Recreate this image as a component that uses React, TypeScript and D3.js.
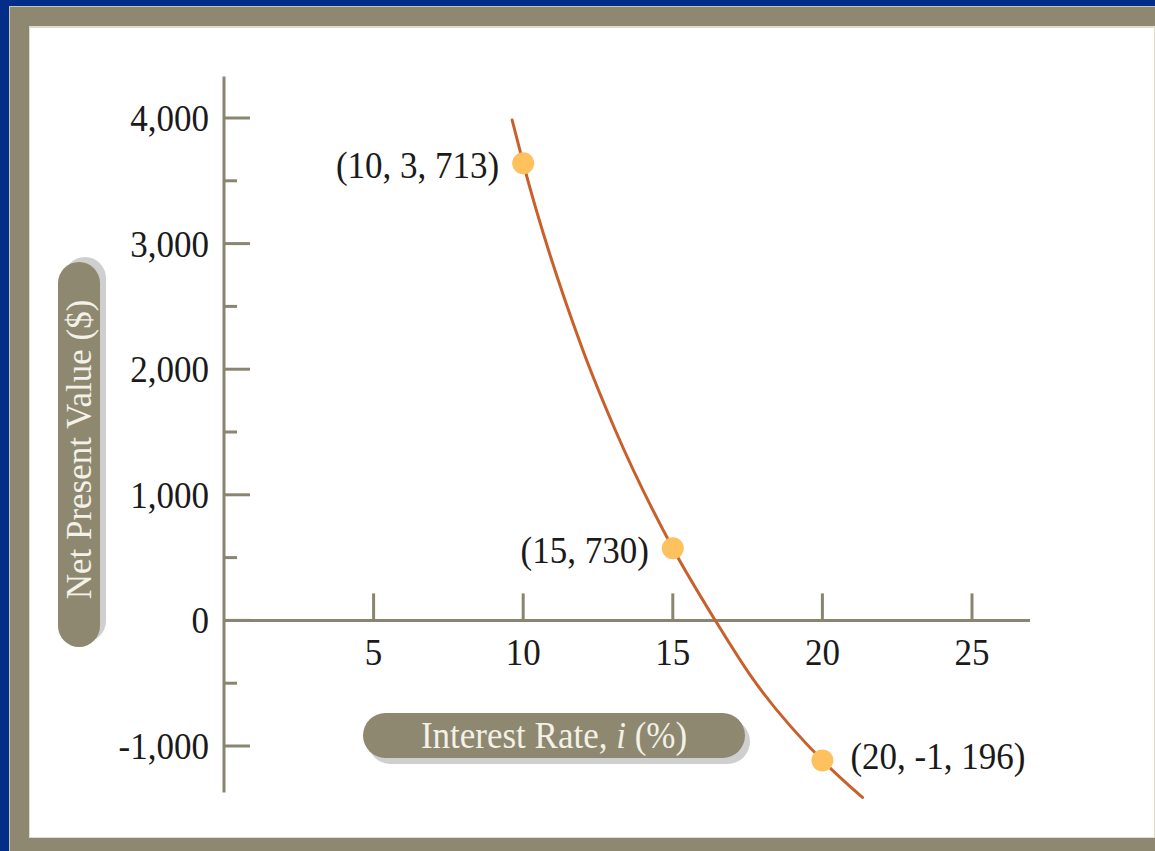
import React from "react";
import * as d3 from "d3";

// ---- data ----
const curveRates = [9.63, 10, 11.97, 13.08, 15, 16.42, 17.6, 20, 21.34];
const curveNPV = [3984, 3640, 2167, 1514, 575, 0, -440, -1115, -1410];

const pointRates = [10, 15, 20];
const pointNPV = [3640, 575, -1115];
const pointLabels = ["(10, 3, 713)", "(15, 730)", "(20, -1, 196)"];
const pointLabelSide = ["left", "left", "right"];

const xTicks = [5, 10, 15, 20, 25];
const yMajorTicks = [4000, 3000, 2000, 1000, 0, -1000];
const yMinorTicks = [3500, 2500, 1500, 500, -500];
const yTickLabels = ["4,000", "3,000", "2,000", "1,000", "0", "-1,000"];

const xAxisExtent = [0, 26.94];
const yAxisExtent = [-1370, 4330];

const xTitle = "Interest Rate, ";
const xTitleItalic = "i";
const xTitleEnd = " (%)";
const yTitle = "Net Present Value ($)";

// ---- styles ----
const W = 1155;
const H = 851;
const BLUE = "#022d88";
const KHAKI = "#8d886f";
const AXIS = "#8a8570";
const CURVE = "#c9602b";
const DOT = "#fdc15e";
const FONT = "'Liberation Serif', 'Times New Roman', Times, serif";
const FS = 35;
const STRETCH = 1.07;

function T(props: {
  x: number;
  y: number;
  anchor: string;
  fill?: string;
  children: React.ReactNode;
}) {
  return (
    <g transform={`translate(${props.x},${props.y}) scale(1,${STRETCH})`}>
      <text x={0} y={0} textAnchor={props.anchor} fontSize={FS} fill={props.fill || "#1a1a1a"}>
        {props.children}
      </text>
    </g>
  );
}

export default function App() {
  const x = d3.scaleLinear().domain([0, 25]).range([224, 972]);
  const y = d3.scaleLinear().domain([-1000, 4000]).range([746, 118]);

  const line = d3
    .line<number>()
    .x((_, i) => x(curveRates[i]))
    .y((d) => y(d))
    .curve(d3.curveMonotoneX);

  const x0 = x(0);
  const y0 = y(0);

  const xPill = { cx: 554, cy: 735.5, w: 382, h: 45 };
  const yPill = { cx: 79, cy: 454.5, w: 385, h: 42 };

  return (
    <svg
      width={W}
      height={H}
      style={{ position: "absolute", left: 0, top: 0, display: "block" }}
      fontFamily={FONT}
    >
      {/* frame */}
      <rect x={0} y={0} width={W} height={H} fill={BLUE} />
      <rect x={9} y={6} width={W - 9} height={H - 6} fill="#c9c5b2" />
      <rect x={10} y={7} width={W - 10} height={H - 7} fill={KHAKI} />
      <rect x={29} y={26} width={W - 29} height={812} fill="#dedbd0" />
      <rect x={30} y={28} width={W - 31} height={809} fill="#ffffff" />

      {/* y axis */}
      <line x1={x0} x2={x0} y1={y(yAxisExtent[1])} y2={y(yAxisExtent[0])} stroke={AXIS} strokeWidth={3} />
      {yMajorTicks.map((t) => (
        <line key={"M" + t} x1={x0} x2={x0 + 26} y1={y(t)} y2={y(t)} stroke={AXIS} strokeWidth={3} />
      ))}
      {yMinorTicks.map((t) => (
        <line key={"m" + t} x1={x0} x2={x0 + 13} y1={y(t)} y2={y(t)} stroke={AXIS} strokeWidth={3} />
      ))}
      {yMajorTicks.map((t, i) => (
        <T key={"yl" + t} x={x0 - 15} y={y(t) + 13} anchor="end">
          {yTickLabels[i]}
        </T>
      ))}

      {/* x axis */}
      <line x1={x(xAxisExtent[0]) - 1} x2={x(xAxisExtent[1])} y1={y0} y2={y0} stroke={AXIS} strokeWidth={3} />
      {xTicks.map((t) => (
        <line key={"xt" + t} x1={x(t)} x2={x(t)} y1={y0} y2={y0 - 27} stroke={AXIS} strokeWidth={3} />
      ))}
      {xTicks.map((t) => (
        <T key={"xl" + t} x={x(t)} y={y0 + 45} anchor="middle">
          {t}
        </T>
      ))}

      {/* x title pill */}
      <rect
        x={xPill.cx - xPill.w / 2 + 5}
        y={xPill.cy - xPill.h / 2 + 6}
        width={xPill.w}
        height={xPill.h}
        rx={xPill.h / 2}
        fill="#cfcfcf"
      />
      <rect
        x={xPill.cx - xPill.w / 2}
        y={xPill.cy - xPill.h / 2}
        width={xPill.w}
        height={xPill.h}
        rx={xPill.h / 2}
        fill={KHAKI}
      />
      <T x={xPill.cx} y={xPill.cy + 12} anchor="middle" fill="#f3f1e8">
        {xTitle}
        <tspan fontStyle="italic">{xTitleItalic}</tspan>
        {xTitleEnd}
      </T>

      {/* y title pill */}
      <g transform={`translate(${yPill.cx},${yPill.cy}) rotate(-90)`}>
        <rect x={-yPill.w / 2 + 5} y={-yPill.h / 2 + 6} width={yPill.w} height={yPill.h} rx={yPill.h / 2} fill="#cfcfcf" />
        <rect x={-yPill.w / 2} y={-yPill.h / 2} width={yPill.w} height={yPill.h} rx={yPill.h / 2} fill={KHAKI} />
        <text x={5} y={12} textAnchor="middle" fontSize={FS} fill="#f3f1e8">
          {yTitle}
        </text>
      </g>

      {/* curve */}
      <path d={line(curveNPV) || ""} fill="none" stroke={CURVE} strokeWidth={3} strokeLinecap="round" />

      {/* points */}
      {pointRates.map((r, i) => (
        <circle key={"p" + i} cx={x(r)} cy={y(pointNPV[i])} r={11} fill={DOT} />
      ))}
      {pointRates.map((r, i) => {
        const left = pointLabelSide[i] === "left";
        return (
          <T
            key={"pl" + i}
            x={left ? x(r) - 24 : x(r) + 28}
            y={y(pointNPV[i]) + (left ? 15 : 9)}
            anchor={left ? "end" : "start"}
          >
            {pointLabels[i]}
          </T>
        );
      })}
    </svg>
  );
}
